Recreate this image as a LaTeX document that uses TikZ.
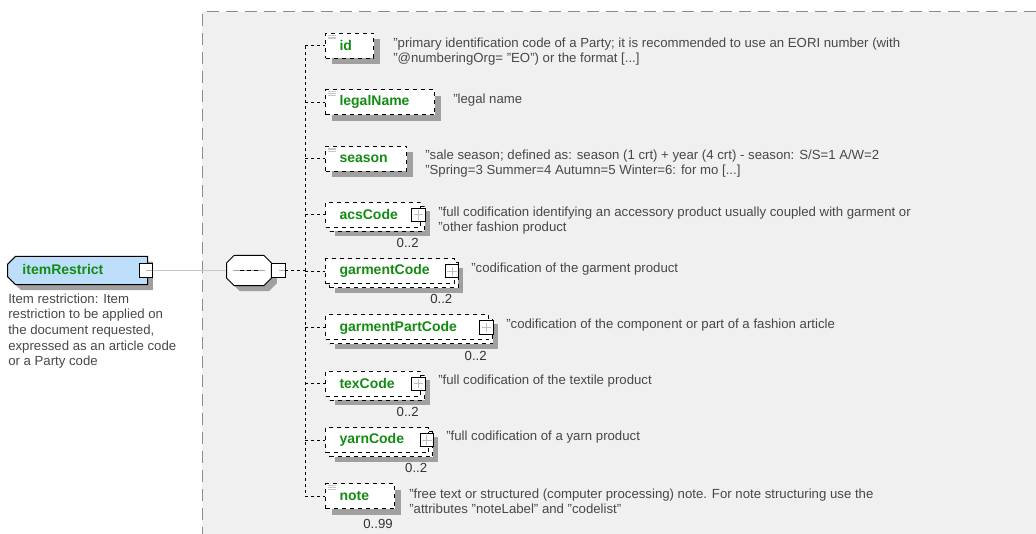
\documentclass[tikz,border=0pt]{standalone}
\usepackage{fontspec}
\setmainfont{Liberation Sans}
\usetikzlibrary{shapes.misc, shadows}

\definecolor{lbl}{RGB}{20,140,20}
\definecolor{desccol}{RGB}{72,72,72}
\definecolor{shade}{RGB}{160,160,160}
\definecolor{panel}{RGB}{240,240,240}
\definecolor{topfill}{RGB}{188,222,250}

\begin{document}
\begin{tikzpicture}[
    x=0.75pt, y=-0.75pt,
    box/.style={rectangle, draw, dashed, line width=0.75pt, fill=white, minimum height=18.75pt,
        inner xsep=10.5pt, inner ysep=0pt, text width=#1, align=left, text=lbl,
        font=\fontsize{10.5}{12}\selectfont\bfseries},
    elem/.style={box=#1, general shadow={fill=shade, shadow xshift=4.5pt, shadow yshift=-4.5pt}},
    multi/.style={box=#1, general shadow={fill=shade, shadow xshift=6.75pt, shadow yshift=-6.75pt},
        general shadow={fill=white, draw=black, dashed, line width=0.75pt, shadow xshift=3pt, shadow yshift=-3pt}},
    simple/.style={path picture={\foreach \k in {1.5,2.75,4}
        \draw[solid, black!22, line width=0.6pt] ([xshift=1.5pt, yshift=-\k pt]path picture bounding box.north west) -- ++(6pt,0pt);}},
    top/.style={chamfered rectangle, chamfered rectangle corners={north west, south west},
        chamfered rectangle xsep=2.6pt, draw, line width=0.75pt, fill=topfill,
        inner xsep=8.65pt, inner ysep=2.15pt, text height=8pt, text depth=2pt,
        text width=82.5pt, align=left, text=lbl, font=\fontsize{10.5}{12}\selectfont\bfseries,
        general shadow={fill=shade, shadow xshift=4pt, shadow yshift=-4pt}},
    seq/.style={chamfered rectangle, chamfered rectangle xsep=2.25pt, draw, line width=0.75pt, fill=white,
        inner xsep=14.6pt, inner ysep=7.9pt,
        general shadow={fill=shade, shadow xshift=4pt, shadow yshift=-4pt},
        path picture={
            \draw[black!35, line width=0.6pt] ([xshift=-12pt]path picture bounding box.center) -- ([xshift=12pt]path picture bounding box.center);
            \draw[black, line width=1.3pt, dash pattern=on 3pt off 2pt] ([xshift=-6.5pt]path picture bounding box.center) -- ([xshift=6.5pt]path picture bounding box.center);}},
    plusbox/.style={rectangle, draw, solid, line width=0.75pt, fill=white, minimum size=10pt, inner sep=0pt, outer sep=0pt,
        path picture={\draw[black!25, line width=0.75pt]
            ([xshift=-3.5pt]path picture bounding box.center) -- ([xshift=3.5pt]path picture bounding box.center)
            ([yshift=-3.5pt]path picture bounding box.center) -- ([yshift=3.5pt]path picture bounding box.center);}},
    minusbox/.style={rectangle, draw, solid, line width=0.75pt, fill=white, minimum size=10pt, inner sep=0pt, outer sep=0pt,
        path picture={\draw[black!30, line width=0.6pt]
            (path picture bounding box.center) -- (path picture bounding box.east);}},
    descr/.style={anchor=base west, inner sep=0pt, align=left, text=desccol, font=\fontsize{9.9}{11.25}\selectfont},
    occ/.style={anchor=base east, inner sep=0pt, text=black!80, font=\fontsize{9.9}{11.25}\selectfont},
    conn/.style={draw=black, line width=0.75pt, dash pattern=on 2.25pt off 2.25pt},
    link/.style={draw=black!22, line width=0.75pt}
]

\path[use as bounding box] (0,0) rectangle (1036,534);

\fill[panel] (202,12) rectangle (1036,534);
\draw[black!45, line width=0.75pt, dash pattern=on 9pt off 5.25pt] (1036,12) -- (202,12) -- (202,534);

\coordinate (busTop) at (305,46);
\coordinate (busBot) at (305,496.4);

\node[top, anchor=west] (itemRestrict) at (7,270.5) {itemRestrict};
\node[minusbox] (topSq) at ([xshift=-1.5pt]itemRestrict.east) {};
\node[descr, font=\fontsize{9.9}{11.8}\selectfont] (topDesc) at (8,366)
{Item restriction: Item\\restriction to be applied on\\the document requested,\\expressed as an article code\\or a Party code};

\node[seq] (seq) at (249,270.5) {};
\node[minusbox, anchor=west] (seqSq) at (seq.east) {};

\node[elem=15pt, simple, anchor=west] (id) at (325,46) {id};
\node[elem=60.75pt, simple, anchor=west] (legalName) at (325,102.3) {legalName};
\node[elem=39.75pt, simple, anchor=west] (season) at (325,158.6) {season};
\node[multi=50.25pt, anchor=west] (acsCode) at (325,214.9) {acsCode};
\node[multi=75.4pt, anchor=west] (garmentCode) at (325,271.2) {garmentCode};
\node[multi=101.25pt, anchor=west] (garmentPartCode) at (325,327.5) {garmentPartCode};
\node[multi=50.25pt, anchor=west] (texCode) at (325,383.8) {texCode};
\node[multi=56.6pt, anchor=west] (yarnCode) at (325,440.1) {yarnCode};
\node[elem=30.75pt, simple, anchor=west] (note) at (325,496.4) {note};

\foreach \n in {acsCode,garmentCode,garmentPartCode,texCode,yarnCode}
    \node[plusbox] (\n-sq) at ([xshift=-1.9pt]\n.east) {};

\foreach \n/\m in {acsCode/0..2,garmentCode/0..2,garmentPartCode/0..2,texCode/0..2,yarnCode/0..2,note/0..99}
    \node[occ] (\n-occ) at ([xshift=-1.5pt, yshift=-24.4pt]\n.east) {\m};

\node[descr] (id-d) at (393,63)
{"primary identification code of a Party; it is recommended to use an EORI number (with\\"@numberingOrg= "EO") or the format [...]};
\node[descr] (legalName-d) at (453,104) {"legal name};
\node[descr] (season-d) at (425,175)
{"sale season; defined as: season (1 crt) + year (4 crt) - season: S/S=1 A/W=2\\"Spring=3 Summer=4 Autumn=5 Winter=6: for mo [...]};
\node[descr] (acsCode-d) at (438,232)
{"full codification identifying an accessory product usually coupled with garment or\\"other fashion product};
\node[descr] (garmentCode-d) at (471,273) {"codification of the garment product};
\node[descr] (garmentPartCode-d) at (506,329) {"codification of the component or part of a fashion article};
\node[descr] (texCode-d) at (438,385) {"full codification of the textile product};
\node[descr] (yarnCode-d) at (446,441) {"full codification of a yarn product};
\node[descr] (note-d) at (409,513)
{"free text or structured (computer processing) note. For note structuring use the\\"attributes "noteLabel" and "codelist"};

\draw[link] (topSq.east) -- (seq.west);
\draw[conn] (seqSq.east) -- (seqSq.east -| busTop);
\draw[conn] (busTop) -- (busBot);
\foreach \n in {id,legalName,season,acsCode,garmentCode,garmentPartCode,texCode,yarnCode,note}
    \draw[conn] (busTop |- \n.west) -- (\n.west);

\end{tikzpicture}
\end{document}
